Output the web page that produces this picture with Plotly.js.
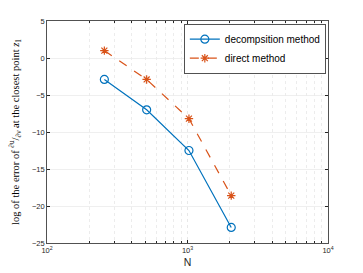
<!DOCTYPE html>
<html>
<head>
<meta charset="utf-8">
<script src="https://cdn.plot.ly/plotly-3.0.1.min.js"></script>
<style>html,body{margin:0;padding:0;background:#fff;}#chart{width:363px;height:273px;}</style>
</head>
<body>
<div id="chart"></div>
<script>
const N = [256, 512, 1024, 2048];
const decompErr = [-2.9, -7.0, -12.5, -22.9];
const directErr = [1.0, -2.9, -8.2, -18.6];
const seriesNames = ["decompsition method", "direct method"];
const xTickVals = [100, 1000, 10000];
const xTickText = ["10<sup>2</sup>", "10<sup>3</sup>", "10<sup>4</sup>"];
const xMinorVals = [200,300,400,500,600,700,800,900,2000,3000,4000,5000,6000,7000,8000,9000];
const yTickVals = [-25, -20, -15, -10, -5, 0, 5];

const axisCol = '#262626';
const traces = [
  {
    x: N, y: decompErr, name: seriesNames[0], type: 'scatter', mode: 'lines+markers',
    line: {color: '#0072BD', width: 1.2},
    marker: {symbol: 'circle-open', size: 8, color: '#0072BD', line: {width: 1.2, color: '#0072BD'}}
  },
  {
    x: N, y: directErr, name: seriesNames[1], type: 'scatter', mode: 'lines+markers',
    line: {color: '#D95319', width: 1.2, dash: 'dash'},
    marker: {symbol: 'asterisk-open', size: 7, color: '#D95319', line: {width: 1.2, color: '#D95319'}}
  }
];
const layout = {
  width: 363, height: 273,
  margin: {l: 47, r: 35, t: 21, b: 30},
  paper_bgcolor: '#fff', plot_bgcolor: '#fff',
  showlegend: true,
  legend: {
    x: 0.993, y: 0.987, xanchor: 'right', yanchor: 'top',
    bgcolor: '#fff', bordercolor: axisCol, borderwidth: 0.8,
    font: {family: 'Liberation Sans, Arial, sans-serif', size: 10, color: '#000'},
    tracegroupgap: 0, itemwidth: 30
  },
  xaxis: {
    type: 'log', range: [2, 4],
    tickmode: 'array', tickvals: xTickVals, ticktext: xTickText,
    ticks: 'inside', ticklen: 3, tickcolor: axisCol,
    showline: true, linecolor: axisCol, linewidth: 0.8, mirror: 'ticks',
    showgrid: true, gridcolor: '#d9d9d9', griddash: 'dot', gridwidth: 0.6,
    minor: {tickmode: 'array', tickvals: xMinorVals, ticks: 'inside', ticklen: 2, tickcolor: axisCol,
            showgrid: true, gridcolor: '#e0e0e0', griddash: 'dot', gridwidth: 0.6},
    tickfont: {family: 'Liberation Sans, Arial, sans-serif', size: 7.5, color: axisCol},
    zeroline: false,
    title: {text: 'N', font: {family: 'Liberation Sans, Arial, sans-serif', size: 10.5, color: axisCol}, standoff: 4}
  },
  yaxis: {
    range: [-25, 5],
    tickmode: 'array', tickvals: yTickVals,
    ticks: 'inside', ticklen: 3, tickcolor: axisCol,
    showline: true, linecolor: axisCol, linewidth: 0.8, mirror: 'ticks',
    showgrid: true, gridcolor: '#ebebeb', gridwidth: 0.8,
    zeroline: false,
    tickfont: {family: 'Liberation Sans, Arial, sans-serif', size: 7.5, color: axisCol},
    title: {text: 'log of the error of <sup>∂u</sup>/<sub>∂ν</sub> at the closest point <i>z</i><sub>1</sub>',
            font: {family: 'Liberation Serif, DejaVu Serif, serif', size: 10.5, color: '#000'}, standoff: 10}
  }
};
Plotly.newPlot('chart', traces, layout, {displayModeBar: false, staticPlot: true});
</script>
</body>
</html>
